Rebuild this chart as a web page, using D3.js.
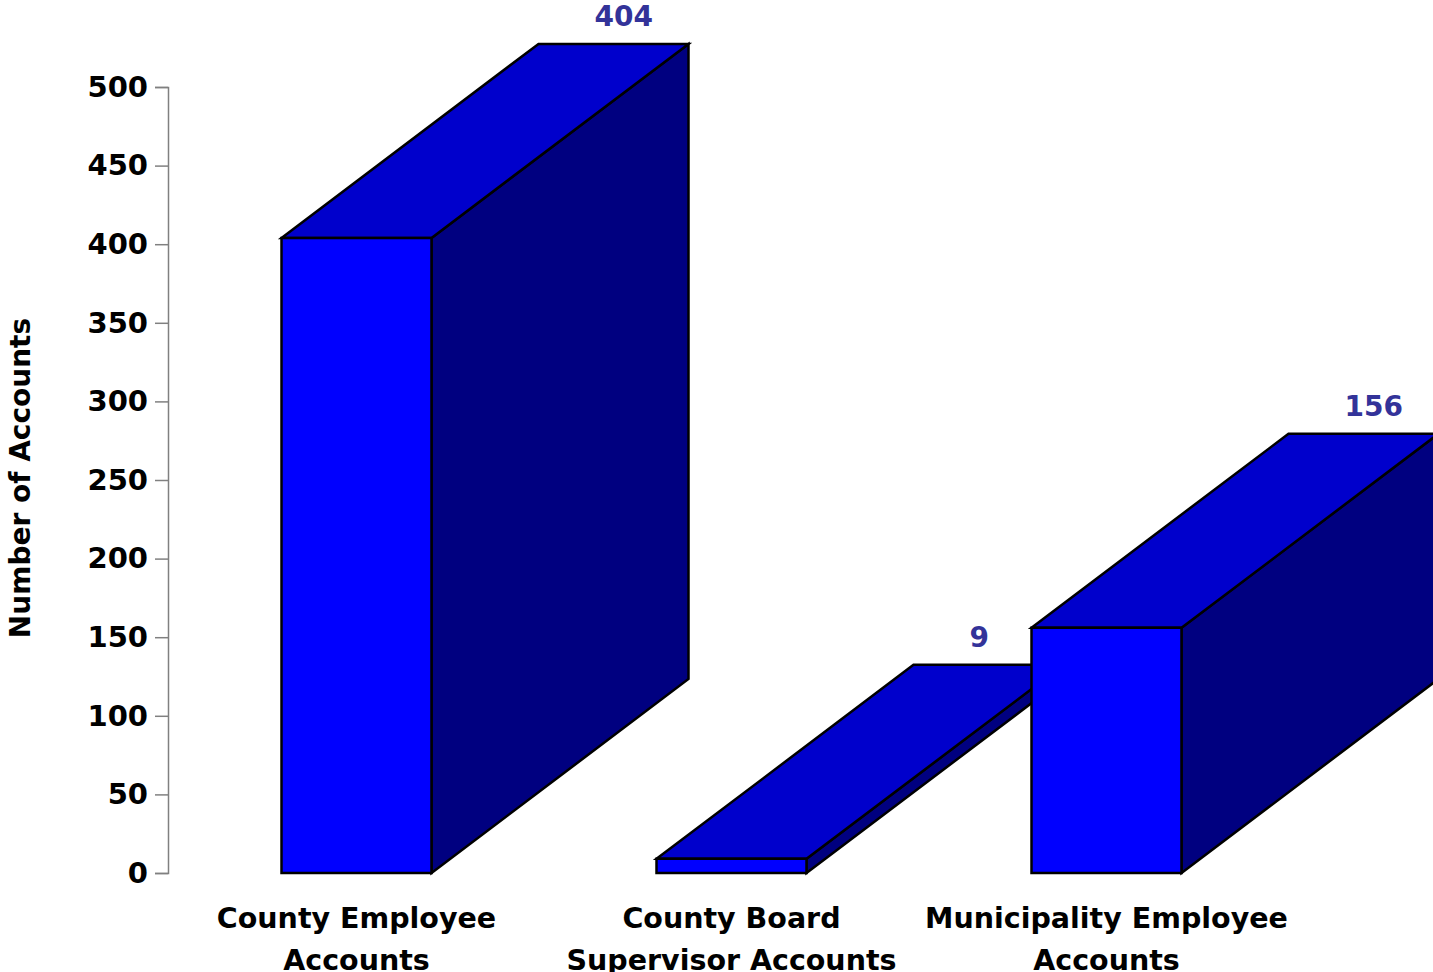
<!DOCTYPE html>
<html>
<head>
<meta charset="utf-8">
<script src="https://cdn.jsdelivr.net/npm/d3@7"></script>
<style>
  html, body { margin: 0; padding: 0; background: #fff; }
  svg { display: block; }
  text { font-family: "DejaVu Sans", Verdana, sans-serif; font-weight: bold; }
</style>
</head>
<body>
<svg id="chart" width="1433" height="972"></svg>
<script>
const categories = ["County Employee Accounts", "County Board Supervisor Accounts", "Municipality Employee Accounts"];
const categoryLines = [["County Employee", "Accounts"], ["County Board", "Supervisor Accounts"], ["Municipality Employee", "Accounts"]];
const values = [404, 9, 156];
const yTicks = [0, 50, 100, 150, 200, 250, 300, 350, 400, 450, 500];
const yTitle = "Number of Accounts";

const svg = d3.select("#chart");

const x = d3.scaleBand().domain(categories).range([169, 1294]).paddingInner(0.6).paddingOuter(0.3);
const y = d3.scaleLinear().domain([0, 500]).range([873, 87]);
const depthX = 257, depthY = -194;

// Axis
const axis = d3.axisLeft(y).tickValues(yTicks).tickSize(13).tickPadding(7).tickFormat(d3.format("d"));
const gAxis = svg.append("g").attr("transform", "translate(168,0)").call(axis);
gAxis.select(".domain").attr("stroke", "#808080").attr("stroke-width", 1.5);
gAxis.selectAll(".tick line").attr("stroke", "#808080").attr("stroke-width", 1.5);
gAxis.selectAll(".tick text").attr("font-size", 29).attr("fill", "#000")
  .attr("font-family", "'DejaVu Sans', Verdana, sans-serif").attr("font-weight", "bold");

// Axis title
svg.append("text")
  .attr("transform", "translate(30,478) rotate(-90)")
  .attr("text-anchor", "middle")
  .attr("font-size", 28)
  .attr("fill", "#000")
  .text(yTitle);

// Bars
const data = categories.map((c, i) => ({ c, v: values[i], lines: categoryLines[i] }));
const bw = x.bandwidth();
const gBars = svg.append("g");
const line = d3.line().curve(d3.curveLinearClosed);
data.forEach(d => {
  const x0 = x(d.c), x1 = x0 + bw, yt = y(d.v), yb = y(0);
  const g = gBars.append("g");
  const side = [[x1, yb], [x1, yt], [x1 + depthX, yt + depthY], [x1 + depthX, yb + depthY]];
  const top = [[x0, yt], [x1, yt], [x1 + depthX, yt + depthY], [x0 + depthX, yt + depthY]];
  const front = [[x0, yb], [x0, yt], [x1, yt], [x1, yb]];
  [[side, "#000080"], [top, "#0000CC"], [front, "#0000FF"]].forEach(([pts, fill]) => {
    g.append("path").attr("d", line(pts)).attr("fill", fill)
      .attr("stroke", "#000").attr("stroke-width", 2.5).attr("stroke-linejoin", "miter");
  });
  // value label
  g.append("text")
    .attr("x", x0 + depthX + 56)
    .attr("y", yt + depthY - 18)
    .attr("text-anchor", "start")
    .attr("font-size", 28)
    .attr("fill", "#333399")
    .text(d.v);
});

// Category labels
data.forEach(d => {
  const cx = x(d.c) + bw / 2;
  const t = svg.append("text").attr("text-anchor", "middle").attr("font-size", 28.5).attr("fill", "#000");
  d.lines.forEach((ln, i) => {
    t.append("tspan").attr("x", cx).attr("y", 928 + i * 42).text(ln);
  });
});
</script>
</body>
</html>
